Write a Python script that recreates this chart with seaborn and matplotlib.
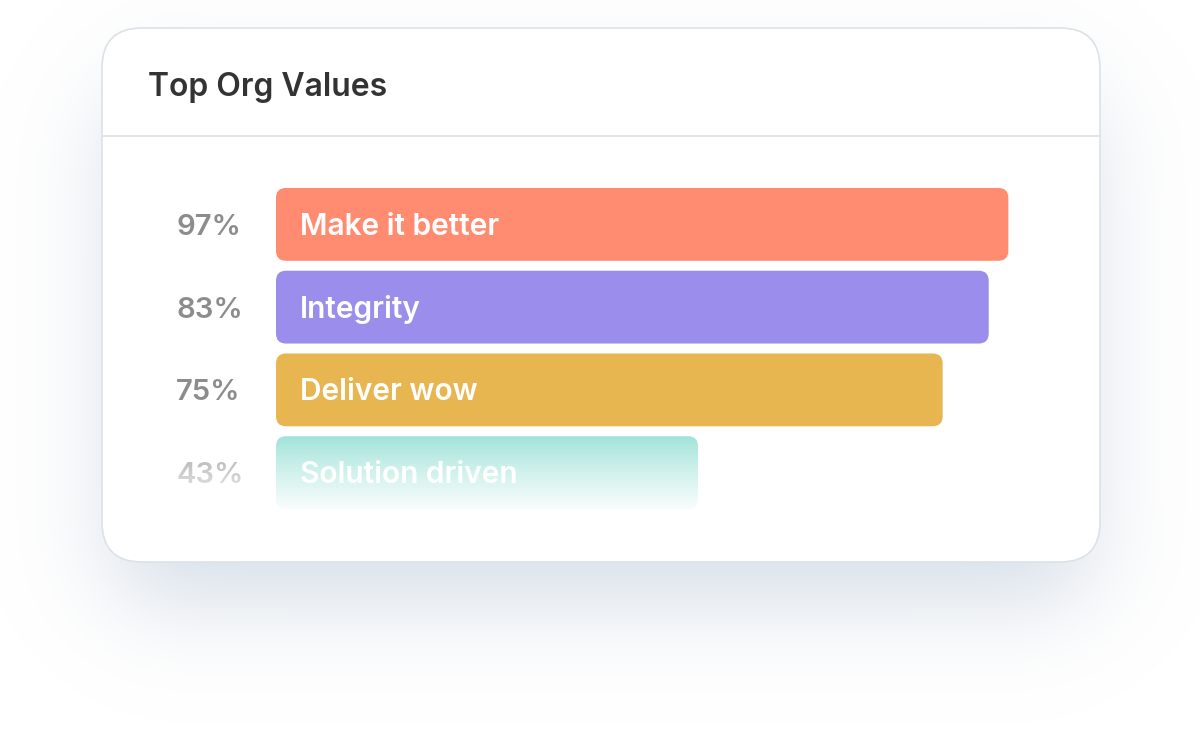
import numpy as np
import pandas as pd
import matplotlib
matplotlib.use("Agg")
import matplotlib.pyplot as plt
import seaborn as sns
from matplotlib.patches import FancyBboxPatch

TITLE = "Top Org Values"
VALUE_NAMES = ["Make it better", "Integrity", "Deliver wow", "Solution driven"]
PERCENT_LABELS = ["97%", "83%", "75%", "43%"]
# bar lengths as drawn in the card (0-100 scale)
BAR_LENGTHS = [97, 94.4, 88.3, 55.9]
BAR_COLORS = ["#FF8B70", "#9A8DEB", "#E8B651", "#97E0D5"]

W, H = 1200, 736
FONT = ["Inter", "DejaVu Sans"]

sns.set_theme(style="white")
plt.rcParams["font.family"] = FONT

fig = plt.figure(figsize=(W / 100, H / 100), dpi=100)
fig.patch.set_facecolor("white")

# background layer in pixel coordinates (y grows downwards)
bg = fig.add_axes([0, 0, 1, 1])
bg.set_xlim(0, W)
bg.set_ylim(H, 0)
bg.axis("off")


def gauss_matrix(n, sigma):
    idx = np.arange(n)
    g = np.exp(-0.5 * ((idx[:, None] - idx[None, :]) / sigma) ** 2)
    return g / g.sum(axis=1, keepdims=True)


# soft drop shadow under the card
mask = np.zeros((H, W))
mask[95:600, 115:1087] = 1.0
blur = gauss_matrix(H, 48) @ mask @ gauss_matrix(W, 48).T
shadow = np.zeros((H, W, 4))
shadow[..., 0] = 170 / 255
shadow[..., 1] = 188 / 255
shadow[..., 2] = 208 / 255
shadow[..., 3] = 0.5 * blur
bg.imshow(shadow, extent=(0, W, H, 0), origin="upper", zorder=0, interpolation="bilinear")
bg.set_xlim(0, W)
bg.set_ylim(H, 0)

card = FancyBboxPatch((102, 28), 998, 534, boxstyle="round,pad=0,rounding_size=40",
                      facecolor="white", edgecolor="none", zorder=1)
bg.add_patch(card)
card_edge = FancyBboxPatch((102, 28), 998, 534, boxstyle="round,pad=0,rounding_size=40",
                           facecolor="none", edgecolor="#dde2e8", linewidth=1.2, zorder=10)
bg.add_patch(card_edge)

bg.plot([102.5, 1099.5], [136, 136], color="#e1e5ea", linewidth=1.5, zorder=2)
bg.text(148, 96, TITLE, fontsize=23, fontweight="semibold", color="#333333",
        va="baseline", ha="left", zorder=3)

# chart axes: seaborn places the bars, drawn again as rounded boxes on bg
ax = fig.add_axes([276 / W, (H - 514) / H, 755 / W, 331 / H])
ax.patch.set_alpha(0)
df = pd.DataFrame({"value": VALUE_NAMES, "length": BAR_LENGTHS})
sns.barplot(data=df, x="length", y="value", hue="value", palette=BAR_COLORS,
            saturation=1, width=0.88, legend=False, ax=ax, orient="h")
ax.set_xlim(0, 100)
ax.set_ylim(len(VALUE_NAMES) - 0.5, -0.5)
ax.axis("off")


def to_bg(pts):
    return bg.transData.inverted().transform(ax.transData.transform(pts))


bars = sorted(ax.patches, key=lambda p: p.get_y())
for p, name, pct in zip(bars, VALUE_NAMES, PERCENT_LABELS):
    (x0, y0), (x1, y1) = to_bg([(p.get_x(), p.get_y()),
                                (p.get_x() + p.get_width(), p.get_y() + p.get_height())])
    left, top = min(x0, x1), min(y0, y1)
    bw, bh = abs(x1 - x0), abs(y1 - y0)
    bg.add_patch(FancyBboxPatch((left, top), bw, bh, boxstyle="round,pad=0,rounding_size=10",
                                facecolor=p.get_facecolor(), edgecolor="none", zorder=3))
    p.set_visible(False)
    mid = top + bh / 2
    bg.text(left + 24, mid + 10.5, name, fontsize=21.5, fontweight="semibold", color="white",
            va="baseline", ha="left", zorder=4)
    bg.text(176, mid + 10.5, pct, fontsize=21, fontweight="semibold", color="#8c8c8c",
            va="baseline", ha="left", zorder=4)

# white fade over the lowest row
rows = np.linspace(430, 560, 200)
t = np.clip((rows - 432) / (515 - 432), 0, 1)
fade = np.ones((len(rows), 2, 4))
fade[..., 3] = (t ** 0.8)[:, None]
im = bg.imshow(fade, extent=(103, 1099, 560, 430), origin="upper", zorder=5,
               interpolation="bilinear", aspect="auto")
im.set_clip_path(card)
bg.set_xlim(0, W)
bg.set_ylim(H, 0)

fig.savefig("out.png", dpi=100, facecolor="white")
